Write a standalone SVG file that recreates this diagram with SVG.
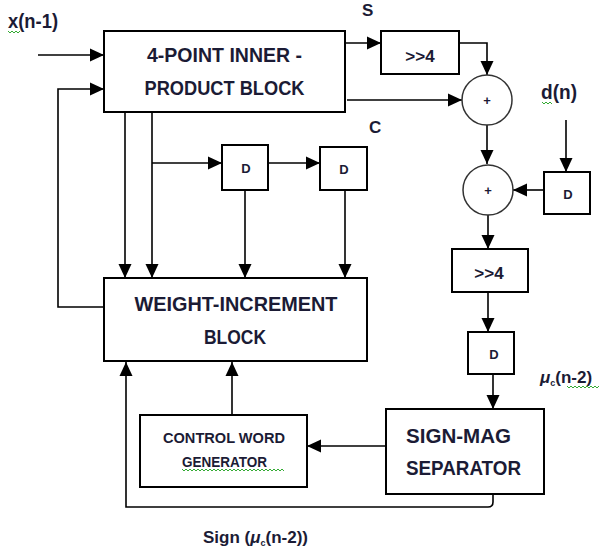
<svg xmlns="http://www.w3.org/2000/svg" width="603" height="549" viewBox="0 0 603 549">
<style>
.box{fill:#fff;stroke:#000;stroke-width:2}
.circ{fill:#fff;stroke:#333;stroke-width:1.5}
.ln{fill:none;stroke:#000;stroke-width:1.6}
.arr{marker-end:url(#ah)}
.t{font-family:"Liberation Sans",Arial,sans-serif;font-weight:bold;fill:#1b1b35}
.big{font-size:20px}
.mid{font-size:17px}
.sm{font-size:13px}
.c{text-anchor:middle}
.sq{fill:none;stroke:#3a3;stroke-width:1}
</style>
<defs>
<marker id="ah" markerUnits="userSpaceOnUse" markerWidth="14" markerHeight="14" viewBox="0 0 14 14" refX="14" refY="7" orient="auto">
<path d="M0,0.5 L14,7 L0,13.5 z" fill="#000"/>
</marker>
</defs>

<g id="connectors">
<path class="ln arr" d="M38,55 H104"/>
<path class="ln arr" d="M104,307 H58 V89 H104"/>
<path class="ln arr" d="M125,112 V278"/>
<path class="ln arr" d="M152,112 V278"/>
<path class="ln arr" d="M152,163 H222"/>
<path class="ln arr" d="M268,163 H320"/>
<path class="ln arr" d="M245,190 V278"/>
<path class="ln arr" d="M345,190 V278"/>
<path class="ln arr" d="M345,43 H381"/>
<path class="ln arr" d="M459,43 H487 V75"/>
<path class="ln arr" d="M347,100 H462"/>
<path class="ln arr" d="M487,125 V164"/>
<path class="ln arr" d="M566,120 V172"/>
<path class="ln arr" d="M544,190 H513"/>
<path class="ln arr" d="M488,215 V249"/>
<path class="ln arr" d="M488,292 V332"/>
<path class="ln arr" d="M493,374 V409"/>
<path class="ln arr" d="M386,446 H307"/>
<path class="ln arr" d="M232,415 V362"/>
<path class="ln arr" d="M493,494 V502 Q493,507 488,507 H126 V362"/>
</g>

<g id="inner-product">
<rect class="box" x="104" y="31" width="241" height="81"/>
<text class="t big c" x="224.5" y="62" textLength="155" lengthAdjust="spacingAndGlyphs">4-POINT INNER -</text>
<text class="t big c" x="224.5" y="95" textLength="160" lengthAdjust="spacingAndGlyphs">PRODUCT BLOCK</text>
</g>

<g id="shift1">
<rect class="box" x="381" y="31" width="78" height="43"/>
<text class="t mid c" x="420" y="62">&gt;&gt;4</text>
</g>

<g id="adder1">
<circle class="circ" cx="487" cy="100" r="25"/>
<text class="t sm c" x="487" y="105">+</text>
</g>

<g id="adder2">
<circle class="circ" cx="488" cy="190" r="25"/>
<text class="t sm c" x="488" y="195">+</text>
</g>

<g id="delay1">
<rect class="box" x="222" y="145" width="46" height="45"/>
<text class="t sm c" x="246" y="173">D</text>
</g>

<g id="delay2">
<rect class="box" x="320" y="147" width="47" height="43"/>
<text class="t sm c" x="344" y="174">D</text>
</g>

<g id="delay3">
<rect class="box" x="544" y="172" width="46" height="42"/>
<text class="t sm c" x="568" y="199">D</text>
</g>

<g id="shift2">
<rect class="box" x="452" y="249" width="76" height="43"/>
<text class="t mid c" x="489" y="279">&gt;&gt;4</text>
</g>

<g id="delay4">
<rect class="box" x="468" y="332" width="46" height="42"/>
<text class="t sm c" x="494" y="359">D</text>
</g>

<g id="weight-increment">
<rect class="box" x="104" y="278" width="263" height="83"/>
<text class="t big c" x="236" y="311" textLength="203" lengthAdjust="spacingAndGlyphs">WEIGHT-INCREMENT</text>
<text class="t big c" x="235" y="344" textLength="62" lengthAdjust="spacingAndGlyphs">BLOCK</text>
</g>

<g id="control-word">
<rect class="box" x="140" y="415" width="167" height="72"/>
<text class="t c" style="font-size:15px" x="224" y="443" textLength="122" lengthAdjust="spacingAndGlyphs">CONTROL WORD</text>
<text class="t c" style="font-size:15px" x="224.5" y="467" textLength="85" lengthAdjust="spacingAndGlyphs">GENERATOR</text>
<path class="sq" d="M182,469 l2,2 l2,-2 l2,2 l2,-2 l2,2 l2,-2 l2,2 l2,-2 l2,2 l2,-2 l2,2 l2,-2 l2,2 l2,-2 l2,2 l2,-2 l2,2 l2,-2 l2,2 l2,-2 l2,2 l2,-2 l2,2 l2,-2 l2,2 l2,-2 l2,2 l2,-2 l2,2 l2,-2 l2,2 l2,-2 l2,2 l2,-2 l2,2 l2,-2 l2,2 l2,-2 l2,2 l2,-2 l2,2 l2,-2 l2,2 l2,-2 l2,2 l2,-2 l2,2 l2,-2 l2,2 l2,-2 l2,2"/>
</g>

<g id="sign-mag">
<rect class="box" x="386" y="409" width="158" height="85"/>
<text class="t big" x="406" y="443" textLength="105" lengthAdjust="spacingAndGlyphs">SIGN-MAG</text>
<text class="t big" x="406" y="475" textLength="115" lengthAdjust="spacingAndGlyphs">SEPARATOR</text>
</g>

<g id="labels">
<text class="t big" x="8" y="28" textLength="50" lengthAdjust="spacingAndGlyphs">x(n-1)</text>
<path class="sq" d="M8,31 l2,2 l2,-2 l2,2 l2,-2 l2,2 l2,-2"/>
<text class="t mid" x="362" y="16">S</text>
<text class="t mid" x="369" y="133">C</text>
<text class="t big" x="541" y="99" textLength="36" lengthAdjust="spacingAndGlyphs">d(n)</text>
<path class="sq" d="M542,102 l2,2 l2,-2 l2,2 l2,-2 l2,2"/>
<text class="t mid" x="540" y="383"><tspan font-style="italic">μ</tspan><tspan font-size="9" dy="3">c</tspan><tspan dy="-3">(n-2)</tspan></text>
<path class="sq" d="M567,386 l2,2 l2,-2 l2,2 l2,-2 l2,2 l2,-2 l2,2 l2,-2 l2,2 l2,-2 l2,2 l2,-2 l2,2 l2,-2 l2,2 l2,-2"/>
<text class="t mid" x="203" y="543">Sign (<tspan font-style="italic">μ</tspan><tspan font-size="9" dy="3">c</tspan><tspan dy="-3">(n-2))</tspan></text>
</g>
</svg>
